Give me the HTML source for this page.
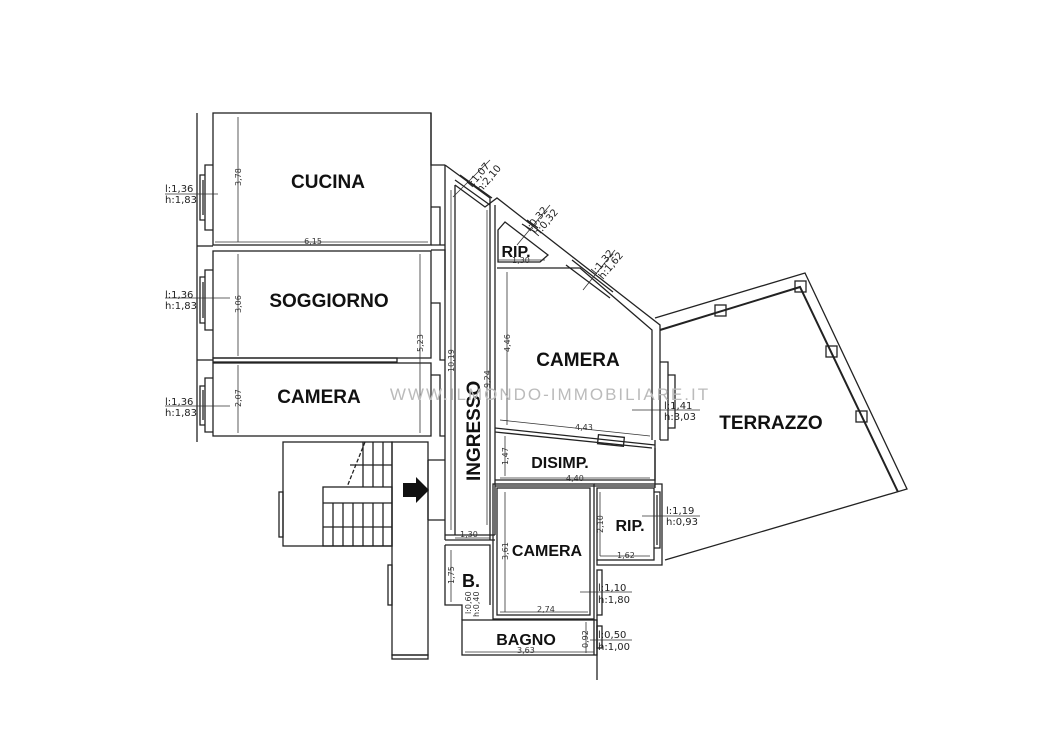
<!DOCTYPE html>
<html><head><meta charset="utf-8"><style>
html,body{margin:0;padding:0;background:#fff;}
svg{display:block}
.t{font-family:"Liberation Sans",sans-serif;font-weight:bold;fill:#111}
.s{font-family:"DejaVu Sans","Liberation Sans",sans-serif;fill:#222;font-size:10px}
.d{font-family:"DejaVu Sans","Liberation Sans",sans-serif;fill:#333;font-size:8px}
</style></head><body>
<svg width="1053" height="744" viewBox="0 0 1053 744" xmlns="http://www.w3.org/2000/svg">
<g fill="none" stroke="#222" stroke-width="1.3">
<!-- left building -->
<line x1="197" y1="113" x2="197" y2="442"/>
<rect x="213" y="113" width="218" height="132"/>
<rect x="213" y="251" width="218" height="107"/>
<rect x="213" y="363" width="218" height="73"/>
<rect x="213" y="358" width="184" height="4"/>
<line x1="197" y1="246" x2="213" y2="246"/><line x1="197" y1="360" x2="213" y2="360"/>
<!-- windows left -->
<path d="M213 165 H205 V230 H213 M205 175 H200 V220 H205"/>
<path d="M213 270 H205 V330 H213 M205 277 H200 V323 H205"/>
<path d="M213 378 H205 V432 H213 M205 386 H200 V425 H205"/>
<line x1="203" y1="180" x2="203" y2="215"/><line x1="203" y1="282" x2="203" y2="318"/><line x1="203" y1="390" x2="203" y2="420"/>
<!-- right wall of left rooms -->
<path d="M431 113 V165 L445 165"/>
<path d="M431 207 H440 V245 H445 M431 245 H445 M431 250 H445 V290 M431 303 H440 V360 H445 M431 375 H440 V436 H445"/>
<!-- ingresso -->
<line x1="445" y1="165" x2="445" y2="540"/>
<line x1="455" y1="185" x2="455" y2="535"/>
<path d="M445 165 L490 198 L490 205"/>
<path d="M455 185 L485 207 L497 198 L660 325 L660 440"/>
<line x1="490" y1="205" x2="490" y2="540"/>
<line x1="495" y1="205" x2="495" y2="535"/>
<path d="M428 460 H445 M428 520 H445 M428 460 V520"/>
<line x1="445" y1="540" x2="495" y2="540"/>
<line x1="445" y1="535" x2="495" y2="535"/>
<!-- rip top -->
<path d="M498 230 L505 222 L548 255 L540 262 H498 Z"/>
<!-- camera right -->
<path d="M497 268 H580 L652 330 L652 440"/>
<path d="M495 428 L655 445 M495 432 L652 448"/>
<rect x="598" y="436" width="26" height="9" transform="rotate(6 611 440)"/>
<!-- window right camera -->
<path d="M660 362 H668 V440 H660 M668 375 H675 V428 H668"/>
<!-- disimp -->
<path d="M495 480 H655 V448 M495 486 H655"/>
<line x1="655" y1="440" x2="655" y2="488"/>
<!-- camera bottom -->
<rect x="497" y="488" width="93" height="127"/>
<rect x="493" y="484" width="101" height="135"/>
<!-- rip bottom -->
<rect x="597" y="488" width="57" height="72"/>
<path d="M594 484 H662 V565 H597 V560"/>
<path d="M654 492 H660 V548 H654"/>
<line x1="657" y1="495" x2="657" y2="545"/>
<!-- B. -->
<path d="M445 545 H490 V605 M445 545 V605 H462 V620"/>
<!-- bagno -->
<rect x="462" y="620" width="135" height="35"/>
<path d="M594 619 V655 M597 615 V680"/>
<rect x="597" y="626" width="5" height="22"/>
<rect x="597" y="570" width="5" height="45"/>
<!-- stairs -->
<rect x="283" y="442" width="109" height="104"/>
<rect x="392" y="442" width="36" height="213"/>
<rect x="392" y="655" width="36" height="4"/>
<rect x="323" y="487" width="69" height="59"/>
<line x1="323" y1="503" x2="392" y2="503"/>
<line x1="323" y1="527" x2="392" y2="527"/>
<path d="M333 503V546 M343 503V546 M353 503V546 M363 503V546 M373 503V546 M383 503V546"/>
<path d="M363 442V487 M373 442V487 M383 442V487 M350 465 H392"/>
<path d="M365 442 L347 487" stroke-dasharray="4 2"/>
<rect x="279" y="492" width="4" height="45"/>
<rect x="388" y="565" width="4" height="40"/>
<!-- terrazzo -->
<path d="M655 318 L805 273 L907 489 L665 560"/>
<path d="M660 330 L800 287 L898 492" stroke-width="2"/>
<rect x="795" y="281" width="11" height="11"/>
<rect x="715" y="305" width="11" height="11"/>
<rect x="826" y="346" width="11" height="11"/>
<rect x="856" y="411" width="11" height="11"/>
<!-- window diag -->
<path d="M455 180 L490 205 M460 175 L492 198" />
<path d="M522 224 L535 232 M527 220 L538 228"/>
<path d="M566 265 L610 298 M572 260 L613 292"/>
</g>
<!-- dimension lines -->
<g stroke="#333" stroke-width="0.8" fill="none">
<line x1="238" y1="117" x2="238" y2="242"/><line x1="215" y1="242" x2="428" y2="242"/>
<line x1="238" y1="254" x2="238" y2="356"/><line x1="238" y1="365" x2="238" y2="433"/>
<line x1="420" y1="254" x2="420" y2="433"/>
<line x1="451" y1="190" x2="451" y2="530"/><line x1="487" y1="210" x2="487" y2="525"/>
<line x1="507" y1="272" x2="507" y2="425"/><line x1="500" y1="420" x2="650" y2="436"/>
<line x1="500" y1="478" x2="650" y2="478"/><line x1="505" y1="436" x2="505" y2="476"/>
<line x1="455" y1="538" x2="490" y2="538"/>
<line x1="505" y1="492" x2="505" y2="612"/><line x1="500" y1="612" x2="588" y2="612"/>
<line x1="600" y1="492" x2="600" y2="556"/><line x1="600" y1="556" x2="650" y2="556"/>
<line x1="465" y1="652" x2="594" y2="652"/><line x1="586" y1="622" x2="586" y2="653"/>
<line x1="451" y1="550" x2="451" y2="602"/>
<line x1="498" y1="260" x2="545" y2="260"/>
<line x1="165" y1="194" x2="218" y2="194"/><line x1="165" y1="298" x2="230" y2="298"/><line x1="165" y1="406" x2="230" y2="406"/>
<line x1="632" y1="410" x2="700" y2="410"/><line x1="642" y1="516" x2="700" y2="516"/>
<line x1="580" y1="592" x2="632" y2="592"/><line x1="590" y1="640" x2="632" y2="640"/>
<line x1="453" y1="197" x2="490" y2="160"/><line x1="517" y1="245" x2="550" y2="205"/><line x1="583" y1="290" x2="615" y2="250"/>
</g>
<polygon points="403,483 416,483 416,477 429,490 416,503 416,497 403,497" fill="#111"/>
<!-- labels -->
<text class="t" x="328" y="188" font-size="19" text-anchor="middle">CUCINA</text>
<text class="t" x="329" y="307" font-size="19" text-anchor="middle">SOGGIORNO</text>
<text class="t" x="319" y="403" font-size="19" text-anchor="middle">CAMERA</text>
<text class="t" x="578" y="366" font-size="19" text-anchor="middle">CAMERA</text>
<text class="t" x="771" y="429" font-size="19" text-anchor="middle">TERRAZZO</text>
<text class="t" x="560" y="468" font-size="16" text-anchor="middle">DISIMP.</text>
<text class="t" x="547" y="556" font-size="16" text-anchor="middle">CAMERA</text>
<text class="t" x="630" y="531" font-size="16" text-anchor="middle">RIP.</text>
<text class="t" x="516" y="257" font-size="16" text-anchor="middle">RIP.</text>
<text class="t" x="471" y="587" font-size="18" text-anchor="middle">B.</text>
<text class="t" x="526" y="645" font-size="16" text-anchor="middle">BAGNO</text>
<text class="t" font-size="19" transform="translate(480 481) rotate(-90)">INGRESSO</text>
<text x="550" y="400" font-family="Liberation Sans,sans-serif" font-size="17" fill="#bbb" text-anchor="middle" letter-spacing="2">WWW.ILMONDO-IMMOBILIARE.IT</text>
<g class="s">
<text x="165" y="192">l:1,36</text><text x="165" y="203">h:1,83</text>
<text x="165" y="298">l:1,36</text><text x="165" y="309">h:1,83</text>
<text x="165" y="405">l:1,36</text><text x="165" y="416">h:1,83</text>
<text x="664" y="409">l:1,41</text><text x="664" y="420">h:3,03</text>
<text x="666" y="514">l:1,19</text><text x="666" y="525">h:0,93</text>
<text x="598" y="591">l:1,10</text><text x="598" y="603">h:1,80</text>
<text x="598" y="638">l:0,50</text><text x="598" y="650">h:1,00</text>
<text transform="translate(472 188) rotate(-50)">l:1,07</text><text transform="translate(481 193) rotate(-50)">h:2,10</text>
<text transform="translate(530 232) rotate(-50)">l:0,32</text><text transform="translate(538 237) rotate(-50)">h:0,32</text>
<text transform="translate(596 275) rotate(-50)">l:1,32</text><text transform="translate(603 280) rotate(-50)">h:1,62</text>
</g>
<g class="d">
<text x="313" y="244" text-anchor="middle">6,15</text>
<text x="575" y="430">4,43</text>
<text x="566" y="481">4,40</text>
<text x="460" y="537">1,30</text>
<text x="512" y="263">1,30</text>
<text x="537" y="612">2,74</text>
<text x="617" y="558">1,62</text>
<text x="517" y="653">3,63</text>
<text transform="translate(241 186) rotate(-90)">3,78</text>
<text transform="translate(241 313) rotate(-90)">3,06</text>
<text transform="translate(241 407) rotate(-90)">2,07</text>
<text transform="translate(423 352) rotate(-90)">5,23</text>
<text transform="translate(454 372) rotate(-90)">10,19</text>
<text transform="translate(490 388) rotate(-90)">9,24</text>
<text transform="translate(510 352) rotate(-90)">4,46</text>
<text transform="translate(508 465) rotate(-90)">1,47</text>
<text transform="translate(508 560) rotate(-90)">3,61</text>
<text transform="translate(603 533) rotate(-90)">2,10</text>
<text transform="translate(454 584) rotate(-90)">1,75</text>
<text transform="translate(588 648) rotate(-90)">0,92</text>
<text transform="translate(471 614) rotate(-90)">l:0,60</text>
<text transform="translate(479 617) rotate(-90)">h:0,40</text>
</g>
</svg>
</body></html>
